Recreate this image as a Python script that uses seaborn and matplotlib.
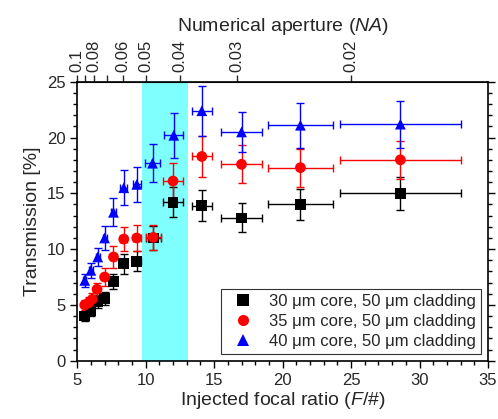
import numpy as np
import pandas as pd
import matplotlib
matplotlib.use('Agg')
import matplotlib.pyplot as plt
import seaborn as sns
from matplotlib.ticker import MultipleLocator, FixedLocator, NullFormatter
from matplotlib.lines import Line2D

# focal ratios (F/#) and horizontal errors
f_30 = [5.55, 6.0, 6.5, 7.0, 7.65, 8.4, 9.35, 10.55, 12.0, 14.1, 17.0, 21.3, 28.6]
fe_30 = [0.1, 0.12, 0.15, 0.15, 0.2, 0.25, 0.3, 0.55, 0.7, 0.75, 1.5, 2.4, 4.4]
t_30 = [4.0, 4.5, 5.3, 5.6, 7.1, 8.7, 8.9, 11.0, 14.2, 13.9, 12.8, 14.0, 15.0]
te_30 = [0.4, 0.5, 0.6, 0.6, 0.7, 0.9, 0.9, 1.1, 1.35, 1.4, 1.3, 1.35, 1.5]

f_35 = [5.55, 5.85, 6.1, 6.45, 7.0, 7.65, 8.4, 9.35, 10.55, 12.0, 14.1, 17.0, 21.3, 28.6]
fe_35 = [0.1, 0.1, 0.12, 0.15, 0.15, 0.2, 0.25, 0.3, 0.55, 0.7, 0.75, 1.5, 2.4, 4.4]
t_35 = [5.0, 5.2, 5.5, 6.4, 7.5, 9.3, 10.9, 11.0, 11.05, 16.1, 18.3, 17.6, 17.3, 18.0]
te_35 = [0.45, 0.5, 0.55, 0.6, 0.8, 1.0, 1.1, 1.2, 1.1, 1.6, 1.8, 1.7, 1.7, 1.7]

f_40 = [5.55, 6.0, 6.5, 7.0, 7.65, 8.4, 9.35, 10.5, 12.05, 14.1, 17.0, 21.3, 28.6]
fe_40 = [0.1, 0.12, 0.15, 0.15, 0.2, 0.25, 0.3, 0.55, 0.7, 0.75, 1.5, 2.4, 4.4]
t_40 = [7.2, 8.1, 9.3, 11.0, 13.3, 15.5, 15.8, 17.7, 20.2, 22.4, 20.5, 21.1, 21.2]
te_40 = [0.6, 0.7, 0.8, 1.1, 1.25, 1.55, 1.55, 1.7, 2.0, 2.25, 1.8, 2.0, 2.1]

labels = ['30 \u03bcm core, 50 \u03bcm cladding',
          '35 \u03bcm core, 50 \u03bcm cladding',
          '40 \u03bcm core, 50 \u03bcm cladding']
colors = ['black', 'red', 'blue']
markers = ['s', 'o', '^']

na_major = [0.1, 0.08, 0.06, 0.05, 0.04, 0.03, 0.02]
na_minor = [0.09, 0.07]
band = (9.7, 13.1)

sns.set_style('ticks')
plt.rcParams['font.family'] = ['Liberation Sans', 'DejaVu Sans']
plt.rcParams['mathtext.fontset'] = 'custom'
plt.rcParams['mathtext.it'] = 'Liberation Sans:italic'
plt.rcParams['mathtext.rm'] = 'Liberation Sans'

df = pd.concat([
    pd.DataFrame({'F': f_30, 'Fe': fe_30, 'T': t_30, 'Te': te_30, 'fiber': labels[0]}),
    pd.DataFrame({'F': f_35, 'Fe': fe_35, 'T': t_35, 'Te': te_35, 'fiber': labels[1]}),
    pd.DataFrame({'F': f_40, 'Fe': fe_40, 'T': t_40, 'Te': te_40, 'fiber': labels[2]}),
], ignore_index=True)

fig = plt.figure(figsize=(4.98, 4.19), dpi=100)
ax = fig.add_axes([0.155, 0.139, 0.825, 0.666])

ax.axvspan(band[0], band[1], color='#80ffff', lw=0, zorder=0)

for lab, c in zip(labels, colors):
    sub = df[df['fiber'] == lab]
    ax.errorbar(sub['F'], sub['T'], xerr=sub['Fe'], yerr=sub['Te'], fmt='none',
                ecolor=c, elinewidth=1.0, capsize=3, capthick=1.0, zorder=2)

sns.scatterplot(data=df, x='F', y='T', hue='fiber', style='fiber',
                palette=dict(zip(labels, colors)), markers=dict(zip(labels, markers)),
                s=60, edgecolor='none', legend=False, ax=ax, zorder=3)

ax.set_xlim(5, 35)
ax.set_ylim(0, 25)
ax.xaxis.set_major_locator(MultipleLocator(5))
ax.xaxis.set_minor_locator(MultipleLocator(1))
ax.yaxis.set_major_locator(MultipleLocator(5))
ax.yaxis.set_minor_locator(MultipleLocator(1))
ax.tick_params(which='both', direction='out', right=True, labelsize=12, width=1, color='black')
ax.tick_params(which='major', length=5)
ax.tick_params(which='minor', length=3)
for s in ax.spines.values():
    s.set_visible(True)
    s.set_linewidth(1.2)
    s.set_color('black')

ax.set_xlabel('Injected focal ratio ($\\it{F/\\#}$)', fontsize=14, labelpad=2)
ax.set_ylabel('Transmission [%]', fontsize=14, labelpad=4)

sec = ax.secondary_xaxis('top', functions=(lambda f: 1 / (2 * np.asarray(f, float)),
                                           lambda na: 1 / (2 * np.asarray(na, float))))
sec.xaxis.set_major_locator(FixedLocator(na_major))
sec.xaxis.set_minor_locator(FixedLocator(na_minor))
sec.xaxis.set_minor_formatter(NullFormatter())
sec.set_xticklabels([f'{v:g}' for v in na_major], rotation=90)
sec.tick_params(which='both', direction='out', labelsize=12, width=1, length=5, pad=2)
sec.set_xlabel('Numerical aperture ($\\it{NA}$)', fontsize=14, labelpad=6)

handles = [Line2D([], [], ls='none', marker=m, color=c, markersize=8, markeredgewidth=0)
           for m, c in zip(markers, colors)]
leg = ax.legend(handles, labels, loc='lower right', fontsize=12, frameon=True,
                fancybox=False, borderaxespad=0.4, handletextpad=0.6,
                labelspacing=0.3, borderpad=0.3)
leg.get_frame().set_edgecolor('black')
leg.get_frame().set_linewidth(0.8)

fig.savefig('out.png', dpi=100)
